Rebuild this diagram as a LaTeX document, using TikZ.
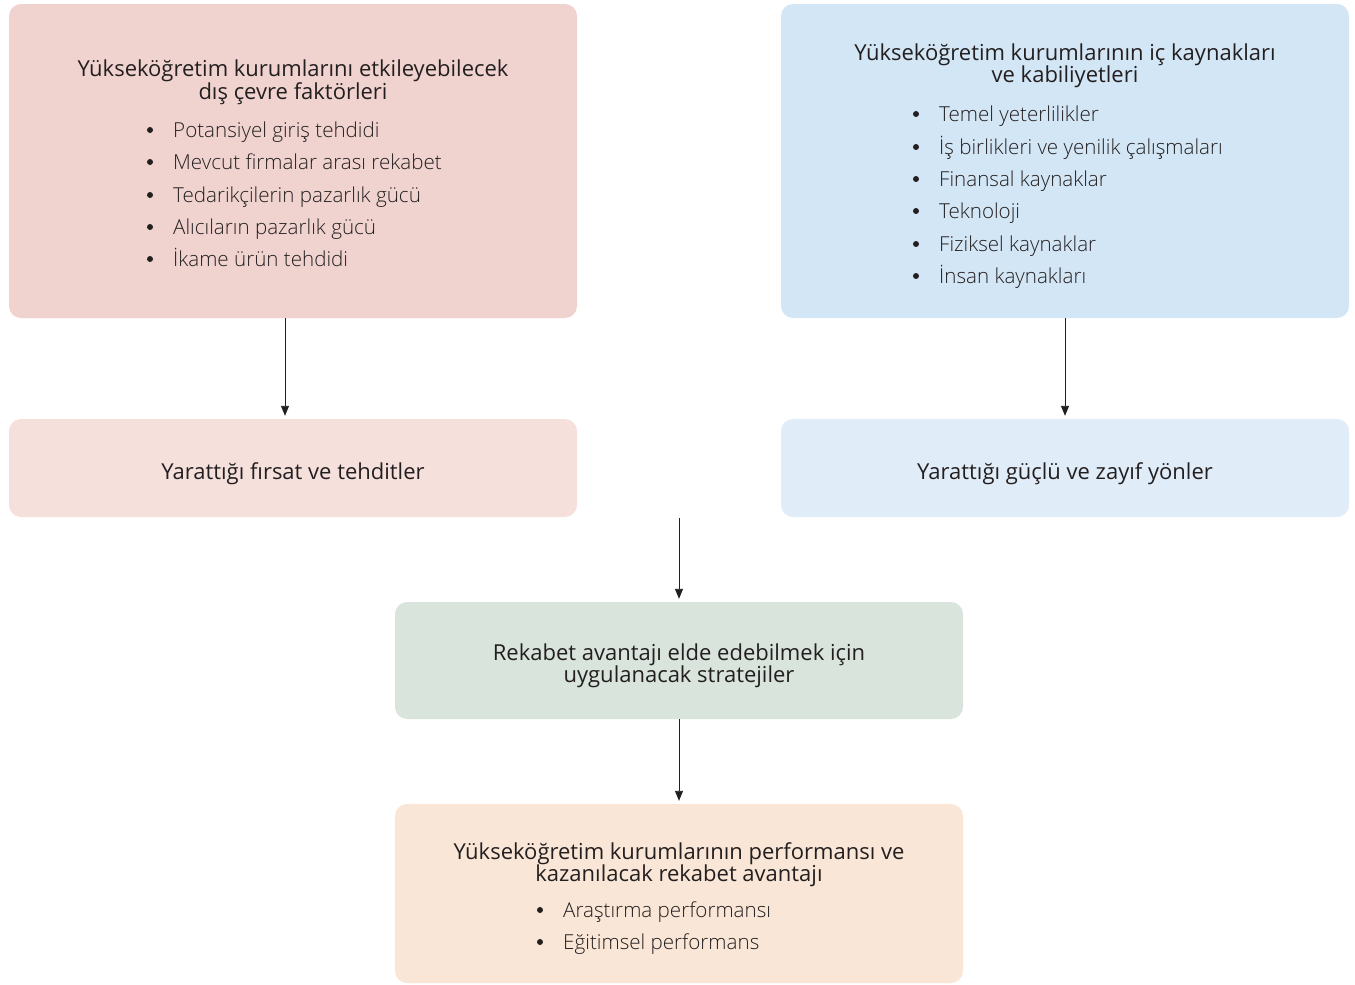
\documentclass[tikz,border=0pt]{standalone}
\usepackage{fontspec}
\setmainfont{Open Sans}
\newfontfamily\lightf{Open Sans Light}
\usetikzlibrary{arrows.meta}
\definecolor{txt}{HTML}{231F20}
\definecolor{pinkA}{HTML}{F0D3CF}
\definecolor{blueA}{HTML}{D3E6F5}
\definecolor{pinkB}{HTML}{F5E0DC}
\definecolor{blueB}{HTML}{E0ECF8}
\definecolor{greenA}{HTML}{D9E4DD}
\definecolor{peachA}{HTML}{F9E6D6}
\tikzset{
  box/.style={rounded corners=12pt, draw=none},
  ttl/.style={font=\fontsize{22}{22}\selectfont, text=txt, align=center, inner sep=0pt, anchor=center},
  itm/.style={font=\lightf\fontsize{20.6}{22}\selectfont, text=txt, inner sep=0pt, anchor=base west},
  dot/.style={circle, fill=txt, inner sep=0pt, minimum size=6pt},
  arr/.style={draw=txt, line width=0.9pt, shorten >=3pt, -{Triangle[length=10pt,width=8pt]}}
}
\begin{document}
\begin{tikzpicture}[x=1pt,y=-1pt]
\useasboundingbox (0,0) rectangle (1355,985);
% boxes
\path[box, fill=pinkA] (9,4) rectangle (577,318);
\node[inner sep=0pt, minimum width=568pt, minimum height=314pt] (ext) at (293,161) {};
\path[box, fill=blueA] (781,4) rectangle (1349,318);
\node[inner sep=0pt, minimum width=568pt, minimum height=314pt] (int) at (1065,161) {};
\path[box, fill=pinkB] (9,419) rectangle (577,517);
\node[inner sep=0pt, minimum width=568pt, minimum height=98pt] (opp) at (293,468) {};
\path[box, fill=blueB] (781,419) rectangle (1349,517);
\node[inner sep=0pt, minimum width=568pt, minimum height=98pt] (str) at (1065,468) {};
\path[box, fill=greenA] (395,602) rectangle (963,719);
\node[inner sep=0pt, minimum width=568pt, minimum height=117pt] (stg) at (679,660.5) {};
\path[box, fill=peachA] (395,804) rectangle (963,983);
\node[inner sep=0pt, minimum width=568pt, minimum height=179pt] (perf) at (679,893.5) {};

% box 1 text
\node[ttl] (t1) at (293,82) {Yükseköğretim kurumlarını etkileyebilecek\\dış çevre faktörleri};
\foreach \y/\t [count=\i] in {130/Potansiyel giriş tehdidi,162/Mevcut firmalar arası rekabet,195/Tedarikçilerin pazarlık gücü,227/Alıcıların pazarlık gücü,259/İkame ürün tehdidi}{
  \node[dot] (d1\i) at (150,\y) {};
  \node[itm] (i1\i) at (173,\y+7.5) {\t};
}
% box 2 text
\node[ttl] (t2) at (1065,66) {Yükseköğretim kurumlarının iç kaynakları\\ve kabiliyetleri};
\foreach \y/\t [count=\i] in {114/Temel yeterlilikler,147/İş birlikleri ve yenilik çalışmaları,179/Finansal kaynaklar,211/Teknoloji,244/Fiziksel kaynaklar,276/İnsan kaynakları}{
  \node[dot] (d2\i) at (916,\y) {};
  \node[itm] (i2\i) at (939,\y+7.5) {\t};
}
% box 3,4
\node[ttl] (t3) at (293,474) {Yarattığı fırsat ve tehditler};
\node[ttl] (t4) at (1065,474) {Yarattığı güçlü ve zayıf yönler};
% box 5
\node[ttl] (t5) at (679,666) {Rekabet avantajı elde edebilmek için\\uygulanacak stratejiler};
% box 6
\node[ttl] (t6) at (679,865) {Yükseköğretim kurumlarının performansı ve\\kazanılacak rekabet avantajı};
\foreach \y/\t [count=\i] in {910/Araştırma performansı,942/Eğitimsel performans}{
  \node[dot] (d6\i) at (540,\y) {};
  \node[itm] (i6\i) at (563,\y+7.5) {\t};
}
% arrows
\coordinate (c1) at (285,318);
\coordinate (c2) at (1065,318);
\coordinate (c3) at (679,518);
\draw[arr] (c1) -- (c1 |- opp.north);
\draw[arr] (c2) -- (c2 |- str.north);
\draw[arr] (c3) -- (stg.north);
\draw[arr] (stg.south) -- (perf.north);
\end{tikzpicture}
\end{document}
